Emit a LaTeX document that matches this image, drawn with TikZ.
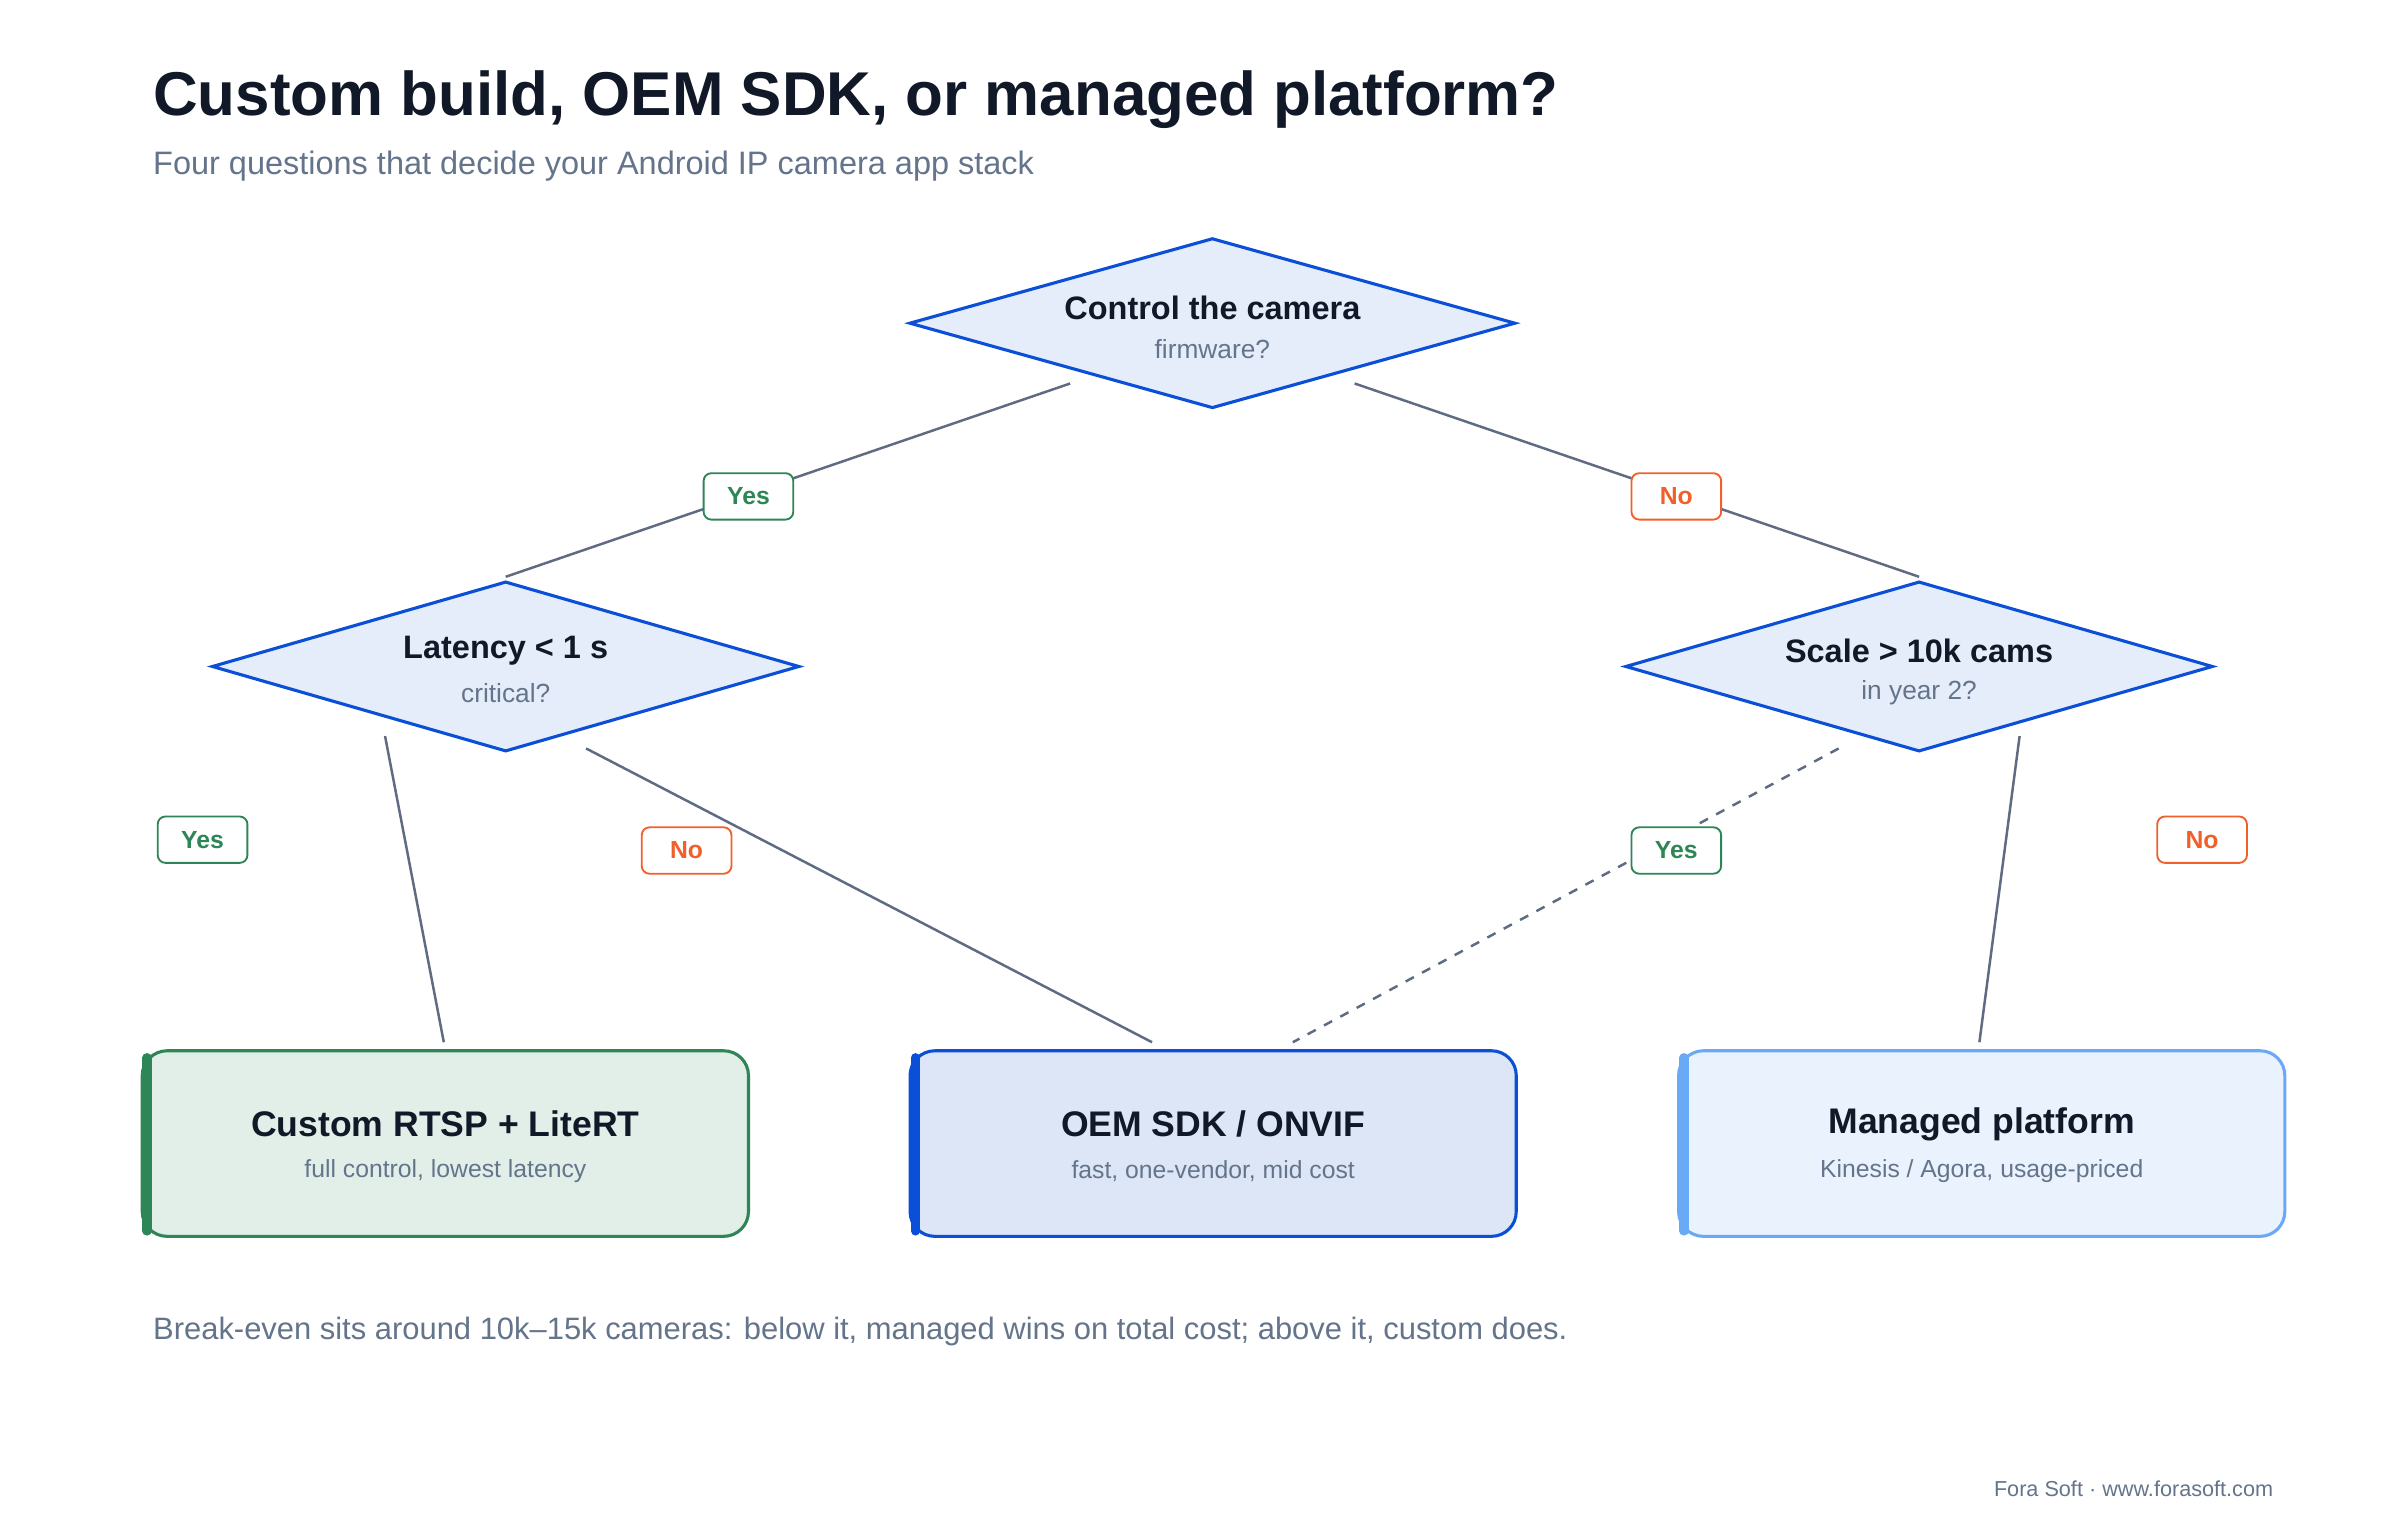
\documentclass[tikz,border=0pt]{standalone}
\usepackage{fontspec}
\setmainfont{Liberation Sans}
\usetikzlibrary{shapes.geometric}
\definecolor{ink}{HTML}{111827}
\definecolor{sub}{HTML}{64748B}
\definecolor{dfill}{HTML}{E5EDFA}
\definecolor{blue}{HTML}{0A4FD6}
\definecolor{grn}{HTML}{2E8555}
\definecolor{gfill}{HTML}{E2EFE8}
\definecolor{mfill}{HTML}{DCE6F7}
\definecolor{rfill}{HTML}{EAF2FE}
\definecolor{rline}{HTML}{6AA9F5}
\definecolor{edge}{HTML}{5E6B82}
\definecolor{org}{HTML}{F0602A}
\begin{document}
\begin{tikzpicture}[x=0.5pt,y=-0.5pt,
  dia/.style={diamond,draw=blue,fill=dfill,line width=1pt,inner sep=0pt,minimum width=196pt,minimum height=55pt},
  dia2/.style={dia,minimum width=190pt},
  qt/.style={font=\fontsize{10.5}{12}\selectfont\bfseries,text=ink},
  qs/.style={font=\fontsize{8.5}{10}\selectfont,text=sub},
  box/.style={draw=#1,rounded corners=8pt,line width=1pt,minimum width=196pt,minimum height=60pt,inner sep=0pt},
  bt/.style={font=\fontsize{11.5}{13}\selectfont\bfseries,text=ink},
  bs/.style={font=\fontsize{8}{10}\selectfont,text=sub},
  lab/.style={draw=#1,text=#1,fill=white,rounded corners=2.5pt,line width=0.6pt,minimum width=29pt,minimum height=15pt,inner sep=0pt,font=\fontsize{8}{9}\selectfont\bfseries},
  con/.style={draw=edge,line width=0.8pt}]
\useasboundingbox[fill=white] (0,0) rectangle (1552,983);
\node[anchor=base west,font=\fontsize{20}{24}\selectfont\bfseries,text=ink] (title) at (92,75) {Custom build, OEM SDK, or managed platform?};
\node[anchor=base west,font=\fontsize{10.5}{12}\selectfont,text=sub] (subt) at (92,113) {Four questions that decide your Android IP camera app stack};
% diamonds
\node[dia] (q1) at (784,209) {};
\node[qt] (q1t) at (784,199) {Control the camera};
\node[qs] (q1s) at (784,226) {firmware?};
\node[dia2] (q2) at (327,431) {};
\node[qt] (q2t) at (327,421) {Latency < 1 s};
\node[qs] (q2s) at (327,448) {critical?};
\node[dia2] (q3) at (1241,431) {};
\node[qt] (q3t) at (1241,421) {Scale > 10k cams};
\node[qs] (q3s) at (1241,448) {in year 2?};
% boxes
\node[box=grn,fill=gfill] (b1) at (288,739.5) {};
\draw[grn,line width=3pt,line cap=round] (95,684) -- (95,796);
\node[bt] (b1t) at (288,727) {Custom RTSP + LiteRT};
\node[bs] (b1s) at (288,757) {full control, lowest latency};
\node[box=blue,fill=mfill] (b2) at (784.5,739.5) {};
\draw[blue,line width=3pt,line cap=round] (592,684) -- (592,796);
\node[bt] (b2t) at (784.5,727) {OEM SDK / ONVIF};
\node[bs] (b2s) at (784.5,757) {fast, one-vendor, mid cost};
\node[box=rline,fill=rfill] (b3) at (1281.5,739.5) {};
\draw[rline,line width=3pt,line cap=round] (1089,684) -- (1089,796);
\node[bt] (b3t) at (1281.5,727) {Managed platform};
\node[bs] (b3s) at (1281.5,757) {Kinesis / Agora, usage-priced};
% connector endpoints
\coordinate (p1) at (692,248); \coordinate (p2) at (327,373);
\coordinate (p3) at (876,248); \coordinate (p4) at (1241,373);
\coordinate (p5) at (249,476); \coordinate (p6) at (287,674);
\coordinate (p7) at (379,484); \coordinate (p8) at (745,674);
\coordinate (p9) at (1189,484); \coordinate (p10) at (836,674);
\coordinate (p11) at (1306,476); \coordinate (p12) at (1280,674);
\draw[con] (p1) -- (p2);
\draw[con] (p3) -- (p4);
\draw[con] (p5) -- (p6);
\draw[con] (p7) -- (p8);
\draw[con,dash pattern=on 3pt off 3pt] (p9) -- (p10);
\draw[con] (p11) -- (p12);
% labels
\node[lab=grn] (l1) at (484,321) {Yes};
\node[lab=org] (l2) at (1084,321) {No};
\node[lab=grn] (l3) at (131,543) {Yes};
\node[lab=org] (l4) at (444,550) {No};
\node[lab=grn] (l5) at (1084,550) {Yes};
\node[lab=org] (l6) at (1424,543) {No};
\node[anchor=base west,font=\fontsize{10}{12}\selectfont,text=sub] (foot) at (92,866) {Break-even sits around 10k–15k cameras: below it, managed wins on total cost; above it, custom does.};
\node[anchor=base east,font=\fontsize{7}{8}\selectfont,text=sub] (cred) at (1477,968) {Fora Soft · www.forasoft.com};
\end{tikzpicture}
\end{document}
